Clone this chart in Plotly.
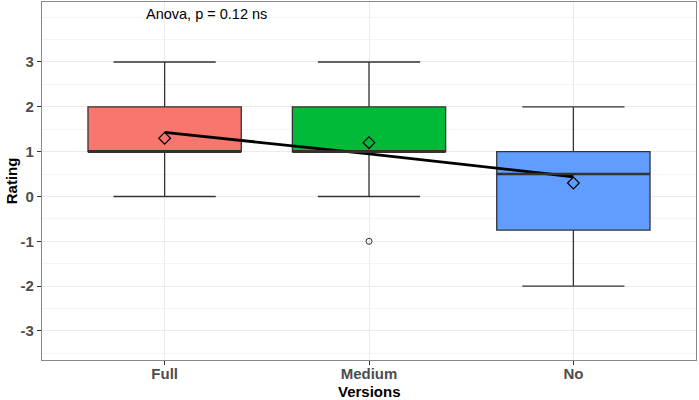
import plotly.graph_objects as go

# box statistics
versions = ["Full", "Medium", "No"]
lower = [0, 0, -2]
q1 = [1, 1, -0.75]
median = [1, 1, 0.5]
q3 = [2, 2, 1]
upper = [3, 3, 2]
means = [1.3, 1.2, 0.3]
trend = [1.43, 0.95, 0.44]
outlier_x = ["Medium"]
outlier_y = [-1]
colors = ["#F8766D", "#00BA38", "#619CFF"]
y_ticks = [-3, -2, -1, 0, 1, 2, 3]
y_ticklabels = ["-3", "-2", "-1", "0", "1", "2", "3"]

box_w = 0.75
fig = go.Figure()

for i, v in enumerate(versions):
    fig.add_trace(go.Box(
        x=[v], q1=[q1[i]], median=[median[i]], q3=[q3[i]],
        lowerfence=[lower[i]], upperfence=[upper[i]],
        width=box_w, whiskerwidth=0.667,
        fillcolor=colors[i], line=dict(color="#333333", width=1.3),
        boxpoints=False, showlegend=False, hoverinfo="skip",
    ))
    # thicker median bar, like ggplot's
    fig.add_shape(type="line", xref="x", yref="y",
                  x0=i - box_w / 2, x1=i + box_w / 2, y0=median[i], y1=median[i],
                  line=dict(color="#333333", width=2.6))

# outlier point
fig.add_trace(go.Scatter(x=outlier_x, y=outlier_y, mode="markers",
                         marker=dict(symbol="circle-open", size=6, color="#333333",
                                     line=dict(width=1)),
                         showlegend=False))

# connecting line
fig.add_trace(go.Scatter(x=versions, y=trend, mode="lines",
                         line=dict(color="black", width=2.8), showlegend=False))

# mean diamonds
fig.add_trace(go.Scatter(x=versions, y=means, mode="markers",
                         marker=dict(symbol="diamond-open", size=9, color="black",
                                     line=dict(width=1.2)),
                         showlegend=False))

fnt = "Liberation Sans, Arial"
fig.add_annotation(x=0.205, y=4.07, xref="x", yref="y", text="Anova, p = 0.12 ns",
                   showarrow=False, font=dict(family=fnt, size=14.5, color="black"))

# axis titles
fig.add_annotation(x=0.5, y=-0.058, xref="paper", yref="paper", yanchor="top",
                   text="Versions", showarrow=False,
                   font=dict(family=fnt, size=15, color="black", weight="bold"))
fig.add_annotation(x=-0.047, y=0.5, xref="paper", yref="paper", xanchor="center",
                   text="Rating", textangle=-90, showarrow=False,
                   font=dict(family=fnt, size=15, color="black", weight="bold"))

axis_font = dict(family=fnt, size=15, color="#4D4D4D", weight="bold")
fig.update_xaxes(type="category", range=[-0.6, 2.6], automargin=False,
                 showgrid=True, gridcolor="#EBEBEB", gridwidth=1,
                 ticks="outside", ticklen=4, tickcolor="#333333",
                 tickfont=axis_font, ticklabelstandoff=-4,
                 showline=True, linecolor="#888888", linewidth=1.2, mirror=True,
                 zeroline=False)
fig.update_yaxes(range=[-3.647, 4.338], tickvals=y_ticks, ticktext=y_ticklabels,
                 automargin=False,
                 showgrid=True, gridcolor="#EBEBEB", gridwidth=1,
                 minor=dict(dtick=0.5, showgrid=True, gridcolor="#F4F4F4", gridwidth=1,
                            tick0=0.5),
                 ticks="outside", ticklen=4, tickcolor="#333333",
                 tickfont=axis_font,
                 showline=True, linecolor="#888888", linewidth=1.2, mirror=True,
                 zeroline=False)

fig.update_layout(width=699, height=400, plot_bgcolor="white", paper_bgcolor="white",
                  margin=dict(l=42, r=3, t=2, b=40, autoexpand=False))

# remove the page margin so the figure sits at the window's corner
fix_page = ("document.body.style.margin='0';"
            "document.body.style.overflow='hidden';"
            "Plotly.relayout(document.getElementById('{plot_id}'), {width: 699, height: 400});")
fig.write_html("out.html", post_script=fix_page,
               config={"responsive": False, "displayModeBar": False})
